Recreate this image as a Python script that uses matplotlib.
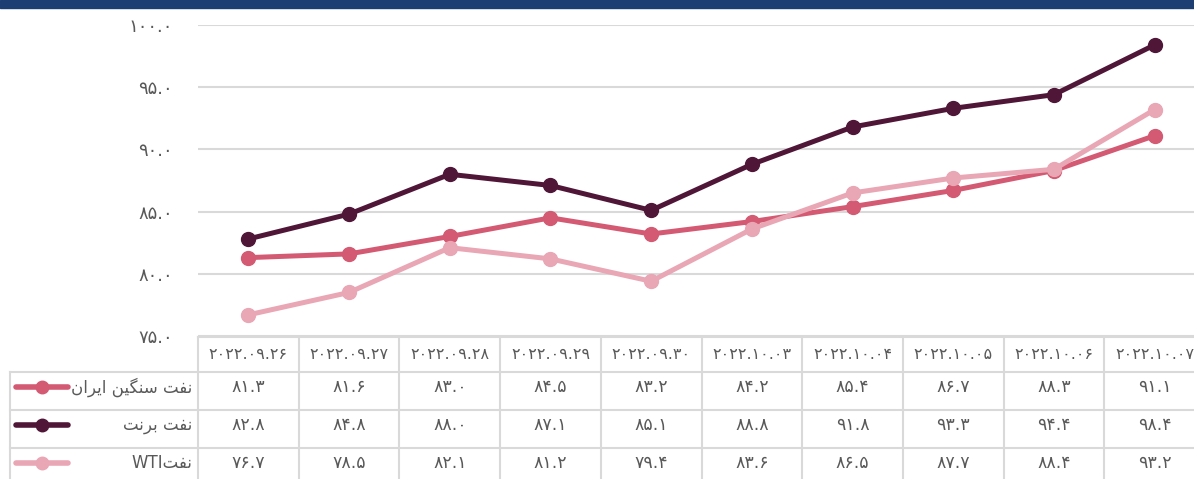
import matplotlib.pyplot as plt
from matplotlib.lines import Line2D

dates = ["2022.09.26", "2022.09.27", "2022.09.28", "2022.09.29", "2022.09.30",
         "2022.10.03", "2022.10.04", "2022.10.05", "2022.10.06", "2022.10.07"]
iran_heavy = [81.3, 81.6, 83.0, 84.5, 83.2, 84.2, 85.4, 86.7, 88.3, 91.1]
brent = [82.8, 84.8, 88.0, 87.1, 85.1, 88.8, 91.8, 93.3, 94.4, 98.4]
wti = [76.7, 78.5, 82.1, 81.2, 79.4, 83.6, 86.5, 87.7, 88.4, 93.2]
y_ticks = [75, 80, 85, 90, 95, 100]

# persian labels, pre-shaped (presentation forms, visual order)
name_iran = "\uFEE5\uFE8D\uFEAE\uFBFE\uFE8D \uFEE6\uFBFF\uFB95\uFEE8\uFEB3 \uFE96\uFED4\uFEE7"
name_brent = "\uFE96\uFEE7\uFEAE\uFE91 \uFE96\uFED4\uFEE7"
name_wti = "WTI\uFE96\uFED4\uFEE7"

series = [(name_iran, iran_heavy, "#d35a72"),
          (name_brent, brent, "#4f1637"),
          (name_wti, wti, "#e9a6b4")]

fa = str.maketrans("0123456789", "۰۱۲۳۴۵۶۷۸۹")
def fa_num(s):
    return s.translate(fa)

plt.rcParams['font.family'] = ['DejaVu Sans']
txt = "#595959"
grid_c = "#d9d9d9"

W, H = 1194, 479
fig = plt.figure(figsize=(W / 100, H / 100), dpi=100)

# top banner
fig.patches.append(plt.Rectangle((0, 1 - 8 / H), 1, 8 / H, transform=fig.transFigure,
                                 color="#1d3e72", zorder=0))

col_w = 100.7
x0 = 198
ax = fig.add_axes([x0 / W, (H - 336) / H, 10 * col_w / W, 311 / H])
x = list(range(len(dates)))
for name, vals, c in series:
    ax.plot(x, vals, color=c, lw=3.6, marker="o", ms=10, solid_capstyle="round", zorder=3)
ax.set_xlim(-0.5, 9.5)
ax.set_ylim(75, 100)
ax.set_yticks(y_ticks)
ax.set_yticklabels([fa_num(f"{v:.1f}") for v in y_ticks], color=txt, fontsize=13)
ax.tick_params(axis="y", length=0, pad=18)
ax.set_xticks([])
ax.grid(axis="y", color=grid_c, lw=1.5)
ax.set_axisbelow(True)
for sp in ax.spines.values():
    sp.set_visible(False)

# data table
lx = 10
tax = fig.add_axes([lx / W, 0, (x0 + 10 * col_w - lx) / W, (H - 337) / H])
tax.set_xlim(-0.5 - (x0 - lx) / col_w, 9.5)
tax.set_ylim(H, 337)
tax.axis("off")
left = -0.5 - (x0 - lx) / col_w
rows = [337, 372, 410, 448, 486]
lw = 1.5
tax.plot([-0.5, 9.5], [rows[0], rows[0]], color=grid_c, lw=lw, clip_on=False)
for r in rows[1:]:
    tax.plot([left, 9.5], [r, r], color=grid_c, lw=lw, clip_on=False)
for i in range(11):
    tax.plot([i - 0.5, i - 0.5], [rows[0], rows[-1]], color=grid_c, lw=lw, clip_on=False)
tax.plot([left, left], [rows[1], rows[-1]], color=grid_c, lw=lw, clip_on=False)

for i, d in enumerate(dates):
    tax.text(i, (rows[0] + rows[1]) / 2, fa_num(d), ha="center", va="center",
             color=txt, fontsize=11.5)
for j, (name, vals, c) in enumerate(series):
    yc = (rows[j + 1] + rows[j + 2]) / 2 - 4
    for i, v in enumerate(vals):
        tax.text(i, yc, fa_num(f"{v:.1f}"), ha="center", va="center", color=txt, fontsize=12.5)
    tax.add_line(Line2D([left + 6 / col_w, left + 58 / col_w], [yc, yc], color=c, lw=4,
                        solid_capstyle="round"))
    tax.plot([left + 32 / col_w], [yc], marker="o", ms=9, color=c)
    tax.text(-0.5 - 6 / col_w, yc, name, ha="right", va="center", color=txt, fontsize=12)

fig.savefig("out.png", dpi=100)
